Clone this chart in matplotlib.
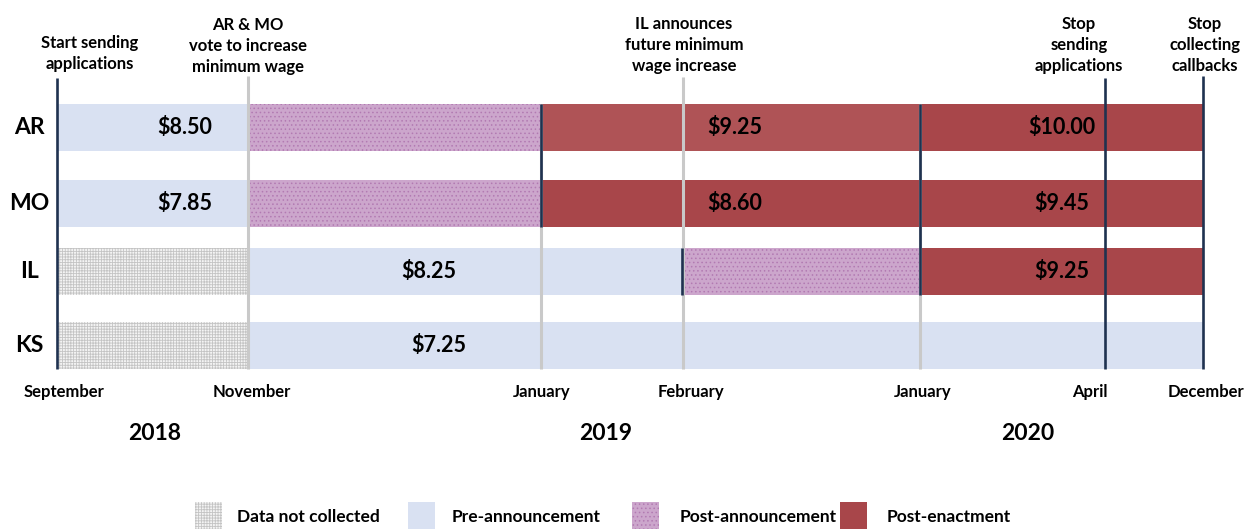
import matplotlib
matplotlib.use('Agg')
import matplotlib.pyplot as plt
from matplotlib.patches import Rectangle

plt.rcParams['font.family'] = ['Lato', 'DejaVu Sans']
plt.rcParams['font.weight'] = 'bold'
plt.rcParams['hatch.linewidth'] = 0.6

# Timeline milestones (position along the drawn timeline)
months = ['September', 'November', 'January', 'February', 'January', 'April', 'December']
month_x = [57, 248, 541, 683, 920, 1105, 1203]
years = ['2018', '2019', '2020']

states = ['AR', 'MO', 'IL', 'KS']

# segments per state: start milestone, end milestone, phase, wage label
ar_start = [0, 1, 2, 4]
ar_end = [1, 2, 4, 6]
ar_phase = ['pre', 'post_ann', 'post_enact_a', 'post_enact']
ar_wage = ['$8.50', '', '$9.25', '$10.00']

mo_start = [0, 1, 2, 4]
mo_end = [1, 2, 4, 6]
mo_phase = ['pre', 'post_ann', 'post_enact', 'post_enact']
mo_wage = ['$7.85', '', '$8.60', '$9.45']

il_start = [0, 1, 3, 4]
il_end = [1, 3, 4, 6]
il_phase = ['none', 'pre', 'post_ann', 'post_enact']
il_wage = ['', '$8.25', '', '$9.25']

ks_start = [0, 1]
ks_end = [1, 6]
ks_phase = ['none', 'pre']
ks_wage = ['', '$7.25']

events = ['Start sending\napplications',
          'AR & MO\nvote to increase\nminimum wage',
          'IL announces\nfuture minimum\nwage increase',
          'Stop\nsending\napplications',
          'Stop\ncollecting\ncallbacks']

legend_labels = ['Data not collected', 'Pre-announcement', 'Post-announcement', 'Post-enactment']

# ---- styling / layout ----
NAVY = '#1F3250'
GRAY = '#C9C9C9'
styles = {
    'none': dict(color='#F4F4F4', hatch='++++++', edgecolor='#C4C4C4'),
    'pre': dict(color='#D9E1F2'),
    'post_ann': dict(color='#CCA6CC', hatch='....', edgecolor='#B27AB2'),
    'post_enact': dict(color='#A8464A'),
    'post_enact_a': dict(color='#AF5356'),
}
row_y = [127.5, 203, 271.5, 345.5]
bar_h = 47
wage_x = {'AR': [185, 0, 735, 1062], 'MO': [185, 0, 735, 1062],
          'IL': [0, 429, 0, 1062], 'KS': [0, 439]}

fig = plt.figure(figsize=(12.46, 5.29), dpi=100)
ax = fig.add_axes([0, 0, 1, 1])
ax.set_xlim(0, 1246)
ax.set_ylim(529, 0)
ax.axis('off')

rows = [(ar_start, ar_end, ar_phase, ar_wage),
        (mo_start, mo_end, mo_phase, mo_wage),
        (il_start, il_end, il_phase, il_wage),
        (ks_start, ks_end, ks_phase, ks_wage)]

for i, (st, (s, e, ph, wg)) in enumerate(zip(states, rows)):
    y = row_y[i]
    for j in range(len(s)):
        x0, x1 = month_x[s[j]], month_x[e[j]]
        sty = dict(styles[ph[j]])
        ec = sty.pop('edgecolor', 'none')
        ax.barh(y, x1 - x0, left=x0, height=bar_h, linewidth=0,
                edgecolor=ec, **sty, zorder=1)
        if wg[j]:
            ax.text(wage_x[st][j], y, wg[j], ha='center', va='center',
                    fontsize=15.5, color='black', zorder=4)
    ax.text(29, y, st, ha='center', va='center', fontsize=16.5)

top = row_y[0] - bar_h / 2
bot = row_y[-1] + bar_h / 2
# vertical milestone lines
ax.vlines(month_x[0], 78, bot, color=NAVY, lw=1.9, zorder=3)
ax.vlines(month_x[1], 76, bot, color=GRAY, lw=2.2, zorder=3)
ax.vlines(month_x[2], top, bot, color=GRAY, lw=2.2, zorder=3)
ax.vlines(month_x[2], top, row_y[1] + bar_h / 2, color=NAVY, lw=1.9, zorder=3)
ax.vlines(month_x[3], 77, bot, color=GRAY, lw=2.2, zorder=3)
ax.vlines(month_x[3] - 1, row_y[2] - bar_h / 2, row_y[2] + bar_h / 2, color=NAVY, lw=1.9, zorder=3)
ax.vlines(month_x[4], top, bot, color=GRAY, lw=2.2, zorder=3)
ax.vlines(month_x[4], top, row_y[2] + bar_h / 2, color=NAVY, lw=1.9, zorder=3)
ax.vlines(month_x[5], 78, bot, color=NAVY, lw=1.9, zorder=3)
ax.vlines(month_x[6], 76, bot, color=NAVY, lw=1.9, zorder=3)

# event annotations
event_x = [90, 248, 684, 1079, 1205]
event_y = [72, 75, 74, 74, 74]
for t, x, y in zip(events, event_x, event_y):
    ax.text(x, y, t, ha='center', va='bottom', fontsize=12,
            linespacing=1.38)

# month and year labels
month_lx = [64, 252, 542, 691, 923, 1090, 1206]
for m, x in zip(months, month_lx):
    ax.text(x, 392, m, ha='center', va='center', fontsize=12)
for yr, x in zip(years, [155, 606, 1028]):
    ax.text(x, 434, yr, ha='center', va='center', fontsize=16.5)

# legend
leg_px = [195, 408, 632, 840]
leg_tx = [237, 452, 680, 887]
leg_keys = ['none', 'pre', 'post_ann', 'post_enact']
for lab, px, tx, k in zip(legend_labels, leg_px, leg_tx, leg_keys):
    sty = dict(styles[k])
    ec = sty.pop('edgecolor', 'none')
    ax.add_patch(Rectangle((px, 502), 27, 30, facecolor=sty['color'],
                           hatch=sty.get('hatch'), edgecolor=ec,
                           linewidth=0, clip_on=False))
    ax.text(tx, 517, lab, ha='left', va='center', fontsize=12.5)

fig.savefig('out.png', dpi=100)
